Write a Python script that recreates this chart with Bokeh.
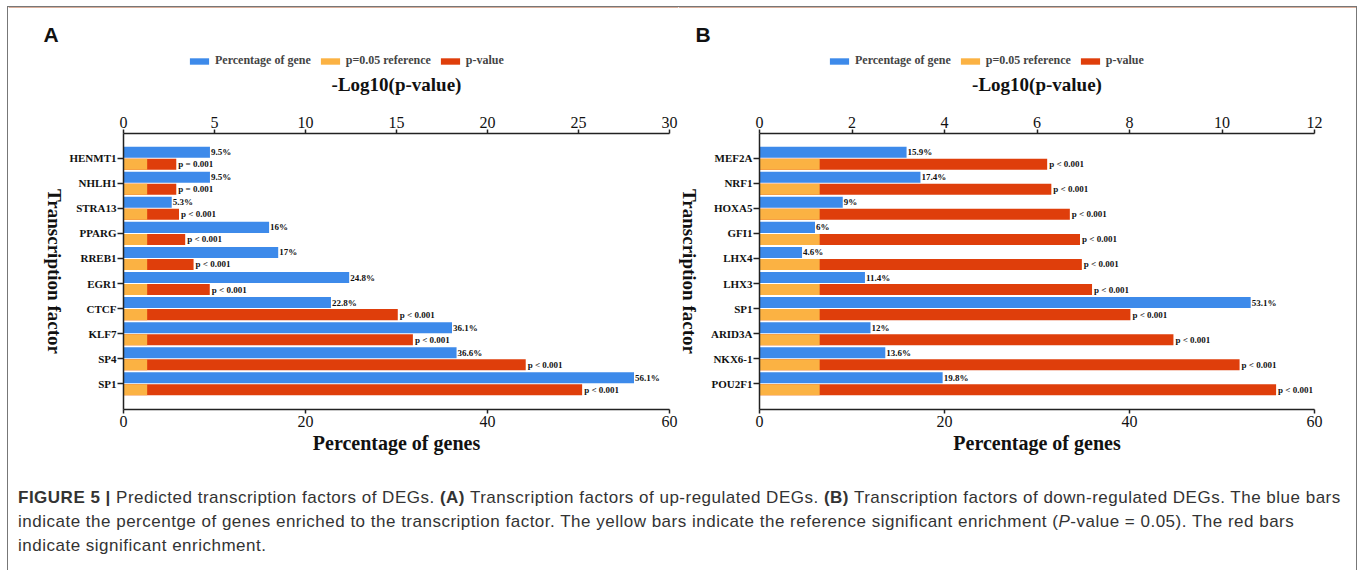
import math
from bokeh.plotting import figure
from bokeh.models import (Range1d, LinearAxis, FixedTicker, Legend, LegendItem,
                          Label, Div, ColumnDataSource)
from bokeh.layouts import column, row
from bokeh.embed import file_html
from bokeh.resources import INLINE
from bokeh.core.properties import value

# ---------------- data ----------------
tf_a = ["HENMT1", "NHLH1", "STRA13", "PPARG", "RREB1", "EGR1", "CTCF", "KLF7", "SP4", "SP1"]
pct_a = [9.5, 9.5, 5.3, 16, 17, 24.8, 22.8, 36.1, 36.6, 56.1]
logp_a = [2.9, 2.9, 3.05, 3.39, 3.85, 4.74, 15.07, 15.9, 22.1, 25.2]
plab_a = ["p = 0.001", "p = 0.001", "p < 0.001", "p < 0.001", "p < 0.001",
          "p < 0.001", "p < 0.001", "p < 0.001", "p < 0.001", "p < 0.001"]

tf_b = ["MEF2A", "NRF1", "HOXA5", "GFI1", "LHX4", "LHX3", "SP1", "ARID3A", "NKX6-1", "POU2F1"]
pct_b = [15.9, 17.4, 9, 6, 4.6, 11.4, 53.1, 12, 13.6, 19.8]
logp_b = [6.22, 6.31, 6.71, 6.93, 6.97, 7.19, 8.02, 8.95, 10.38, 11.17]
plab_b = ["p < 0.001"] * 10

ref_p = 0.05
pct_ticks = [0, 20, 40, 60]
log_ticks_a = [0, 5, 10, 15, 20, 25, 30]
log_ticks_b = [0, 2, 4, 6, 8, 10, 12]
legend_labels = ["Percentage of gene", "p=0.05 reference", "p-value"]
y_title = "Transcription factor"
caption_html = ('<b>FIGURE 5 |</b> Predicted transcription factors of DEGs. <b>(A)</b> Transcription factors '
                'of up-regulated DEGs. <b>(B)</b> Transcription factors of down-regulated DEGs. The blue bars<br>'
                'indicate the percentge of genes enriched to the transcription factor. The yellow bars indicate '
                'the reference significant enrichment (<i>P</i>-value = 0.05). The red bars<br>'
                'indicate significant enrichment.')

BLUE = "#3d8aea"
YEL = "#fbb243"
RED = "#df3e0b"
SERIF = "Liberation Serif"
TOP_H = 63
PANEL_H = 63 + 276 + 61


def blank_fig(W, H):
    f = figure(width=W, height=H, output_backend="svg", toolbar_location=None,
               x_range=Range1d(0, 1), y_range=Range1d(0, 1),
               min_border=0, x_axis_location=None, y_axis_location=None)
    f.outline_line_color = None
    f.grid.visible = False
    return f


def make_header(letter, W, legend_x, letter_x):
    """Small figure holding the panel letter and the legend."""
    h = blank_fig(W, TOP_H)
    colors = [BLUE, YEL, RED]
    # legend proxies, placed outside the visible range
    rends = [h.hbar(y=[5], left=[0], right=[1], height=0.5, fill_color=c, line_color=None)
             for c in colors]
    legend = Legend(items=[LegendItem(label=lab, renderers=[r]) for lab, r in zip(legend_labels, rends)],
                    orientation="horizontal", location=(legend_x, 2),
                    glyph_width=24, glyph_height=8, label_height=14,
                    label_text_font=SERIF, label_text_font_style="bold",
                    label_text_font_size="12px", padding=0, margin=0, spacing=7,
                    label_standoff=4, border_line_color=None, background_fill_alpha=0)
    h.add_layout(legend)
    h.add_layout(Label(x=letter_x, y=36, x_units="screen", y_units="screen", text=letter,
                       text_font="Liberation Sans", text_font_style="bold",
                       text_font_size="21px", text_baseline="alphabetic", text_color="#111"))
    return h


def make_ytitle(W, cx):
    """Narrow figure carrying the top-to-bottom rotated y-axis title.
    Its frame is aligned with the neighbouring panel's frame (276 px tall)."""
    t = blank_fig(W, PANEL_H)
    t.add_layout(Label(x=cx, y=138, x_units="screen", y_units="screen", text=y_title,
                       angle=-math.pi / 2, text_align="center", text_baseline="middle",
                       text_font=SERIF, text_font_style="bold", text_font_size="19px",
                       text_color="#111"))
    return t


def make_panel(tfs, pct, logp, plab, log_max, log_ticks, bl, fw, br):
    n = len(tfs)
    idx = list(range(n))
    ref_log = -math.log10(ref_p)
    src = ColumnDataSource(dict(
        yb=[i - 0.24 for i in idx], yr=[i + 0.24 for i in idx],
        pct=pct, logp=logp, ref=[ref_log] * n,
        pctlab=[f"{v:g}%" for v in pct], plab=plab))
    p = figure(width=bl + fw + br, height=PANEL_H, output_backend="svg",
               toolbar_location=None,
               x_range=Range1d(0, 60), y_range=Range1d(n - 1 + 1.025, -0.985),
               min_border_left=bl, min_border_right=br,
               min_border_top=63, min_border_bottom=61,
               x_axis_location=None, y_axis_location="left")
    p.extra_x_ranges = {"log": Range1d(0, log_max)}
    p.outline_line_color = None
    p.grid.visible = False

    p.hbar(y="yb", left=0, right="pct", height=0.44, fill_color=BLUE,
           line_color=None, source=src)
    p.hbar(y="yr", left=0, right="logp", height=0.44, fill_color=RED,
           line_color=None, source=src, x_range_name="log")
    p.hbar(y="yr", left=0, right="ref", height=0.44, fill_color=YEL,
           line_color=None, source=src, x_range_name="log")

    p.text(x="pct", y="yb", text="pctlab", source=src, x_offset=1,
           text_baseline="middle", text_align="left", text_font=value(SERIF),
           text_font_style="bold", text_font_size="9px", text_color="#111")
    p.text(x="logp", y="yr", text="plab", source=src, x_offset=2, x_range_name="log",
           text_baseline="middle", text_align="left", text_font=value(SERIF),
           text_font_style="bold", text_font_size="9px", text_color="#111")

    below = LinearAxis(ticker=FixedTicker(ticks=pct_ticks), axis_label="Percentage of genes")
    above = LinearAxis(x_range_name="log", ticker=FixedTicker(ticks=log_ticks),
                       axis_label="-Log10(p-value)")
    p.add_layout(below, "below")
    p.add_layout(above, "above")
    yax = p.yaxis[0]
    yax.ticker = FixedTicker(ticks=idx)
    yax.major_label_overrides = {i: t for i, t in enumerate(tfs)}

    for ax in (below, above, yax):
        ax.axis_line_width = 1.5
        ax.axis_line_color = "#222222"
        ax.major_tick_line_width = 1.5
        ax.major_tick_line_color = "#222222"
        ax.major_tick_in = 0
        ax.minor_tick_in = 0
        ax.minor_tick_out = 0
        ax.major_label_text_font = SERIF
        ax.major_label_text_color = "#111111"
        ax.axis_label_text_font = SERIF
        ax.axis_label_text_font_style = "bold"
        ax.axis_label_text_color = "#111111"
    for ax in (below, above):
        ax.major_tick_out = 4
        ax.major_label_text_font_size = "16px"
        ax.major_label_standoff = 2
    above.axis_label_text_font_size = "19px"
    above.axis_label_standoff = 19
    below.axis_label_text_font_size = "20px"
    below.axis_label_standoff = 2
    yax.major_tick_out = 6
    yax.major_label_standoff = 1
    yax.major_label_text_font_size = "11px"
    yax.major_label_text_font_style = "bold"
    return p


hA = make_header("A", 670, 179, 35)
hB = make_header("B", 678, 149, 17)
tA = make_ytitle(58, 46)
pA = make_panel(tf_a, pct_a, logp_a, plab_a, 30, log_ticks_a, 57, 546, 9)
tB = make_ytitle(24, 11)
pB = make_panel(tf_b, pct_b, logp_b, plab_b, 12, log_ticks_b, 57, 555, 42)

cap = Div(text=('<div style="padding:16px 0 0 10px; font-family:\'Liberation Sans\', Arial, sans-serif;'
                ' font-size:17px; letter-spacing:0.5px; line-height:24px; color:#333; white-space:nowrap;">'
                + caption_html + '</div>'), width=1348, height=100, margin=0)

layout = column(row(hA, hB), row(tA, pA, tB, pB), cap, margin=(6, 0, 0, 7),
                styles={"border-top": "1px solid #777", "border-left": "1px solid #777",
                        "border-right": "1px solid #777", "background": "white"})

open("out.html", "w").write(file_html(layout, INLINE))
